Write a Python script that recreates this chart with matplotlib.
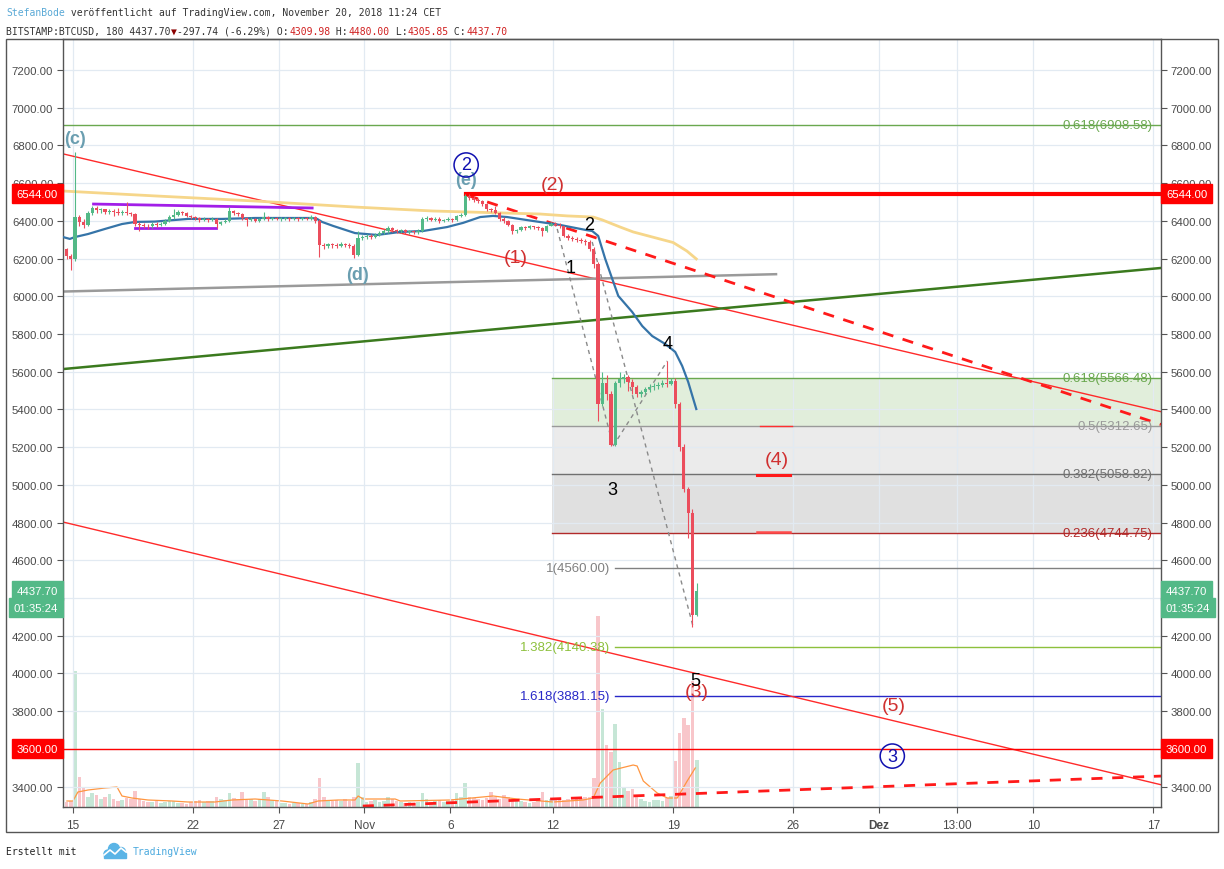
import numpy as np
import matplotlib
matplotlib.use('Agg')
import matplotlib.pyplot as plt
import matplotlib.transforms as mtrans
from matplotlib.patches import Rectangle, Circle

plt.rcParams['font.family'] = ['Liberation Sans', 'DejaVu Sans']

# ---- BTCUSD candles (6h), day 0 = Oct 15 2018, first candle opens Oct 14 12:00
first_day = -0.5
step = 0.25
first_open = 6250
close = [
    6215, 6195,
    6420, 6395, 6380, 6440,
    6470, 6455, 6460, 6445,
    6450, 6445, 6440, 6445,
    6440, 6435, 6385, 6380,
    6375, 6370, 6385, 6380,
    6385, 6400, 6420, 6430,
    6445, 6440, 6425, 6420,
    6415, 6405, 6410, 6405,
    6410, 6385, 6395, 6400,
    6450, 6440, 6435, 6415,
    6405, 6410, 6400, 6410,
    6420, 6410, 6415, 6412,
    6412, 6415, 6410, 6415,
    6410, 6415, 6412, 6420,
    6400, 6270, 6265, 6275,
    6270, 6265, 6275, 6270,
    6265, 6220, 6310, 6315,
    6320, 6315, 6325, 6335,
    6345, 6360, 6350, 6345,
    6350, 6340, 6345, 6340,
    6345, 6410, 6415, 6405,
    6410, 6400, 6405, 6410,
    6405, 6425, 6430, 6530,
    6520, 6510, 6505, 6490,
    6460, 6455, 6440, 6410,
    6400, 6380, 6345, 6350,
    6365, 6360, 6370, 6365,
    6360, 6345, 6375, 6385,
    6380, 6370, 6320, 6310,
    6305, 6300, 6295, 6290,
    6250, 6170, 5430, 5540,
    5480, 5210, 5540, 5560,
    5570, 5545, 5520, 5480,
    5490, 5510, 5520, 5525,
    5530, 5540, 5535, 5550,
    5430, 5200, 4980, 4850,
    4309.98, 4437.70,
]
high = [
    6255, 6225,
    6765, 6430, 6410, 6450,
    6480, 6478, 6470, 6465,
    6462, 6460, 6470, 6455,
    6500, 6448, 6440, 6395,
    6390, 6385, 6395, 6392,
    6395, 6410, 6430, 6465,
    6455, 6452, 6445, 6432,
    6428, 6420, 6418, 6415,
    6418, 6415, 6400, 6408,
    6475, 6458, 6448, 6440,
    6420, 6418, 6415, 6416,
    6445, 6425, 6422, 6420,
    6420, 6422, 6420, 6422,
    6422, 6422, 6420, 6430,
    6428, 6410, 6285, 6285,
    6285, 6282, 6290, 6285,
    6280, 6275, 6345, 6325,
    6330, 6330, 6335, 6345,
    6355, 6372, 6365, 6358,
    6358, 6355, 6352, 6350,
    6355, 6418, 6425, 6420,
    6420, 6418, 6412, 6418,
    6415, 6432, 6440, 6544,
    6540, 6530, 6520, 6512,
    6495, 6470, 6480, 6445,
    6418, 6405, 6385, 6358,
    6372, 6375, 6378, 6375,
    6372, 6365, 6380, 6395,
    6392, 6388, 6375, 6330,
    6318, 6312, 6310, 6305,
    6300, 6260, 6180, 5600,
    5580, 5500, 5550, 5600,
    5590, 5585, 5560, 5530,
    5505, 5520, 5535, 5540,
    5545, 5555, 5657, 5565,
    5565, 5440, 5215, 4990,
    4870, 4480,
]
low = [
    6200, 6140,
    6185, 6370, 6360, 6375,
    6430, 6440, 6440, 6435,
    6435, 6425, 6430, 6430,
    6430, 6425, 6375, 6345,
    6360, 6355, 6362, 6365,
    6370, 6378, 6395, 6412,
    6425, 6430, 6418, 6410,
    6405, 6395, 6398, 6395,
    6398, 6360, 6378, 6388,
    6395, 6430, 6428, 6405,
    6370, 6398, 6392, 6395,
    6402, 6400, 6405, 6405,
    6400, 6405, 6400, 6402,
    6400, 6402, 6402, 6405,
    6390, 6210, 6250, 6255,
    6258, 6255, 6260, 6260,
    6255, 6205, 6215, 6300,
    6305, 6305, 6308, 6318,
    6328, 6338, 6342, 6335,
    6335, 6330, 6332, 6330,
    6332, 6340, 6400, 6398,
    6398, 6390, 6392, 6398,
    6395, 6398, 6418, 6425,
    6508, 6500, 6495, 6480,
    6452, 6445, 6435, 6400,
    6390, 6370, 6330, 6338,
    6345, 6352, 6355, 6355,
    6350, 6320, 6340, 6370,
    6370, 6362, 6315, 6300,
    6295, 6290, 6280, 6270,
    6240, 6150, 5338, 5420,
    5450, 5206, 5205, 5520,
    5540, 5500, 5480, 5465,
    5465, 5480, 5495, 5505,
    5510, 5520, 5520, 5530,
    5410, 5180, 4960, 4720,
    4245, 4305.85,
]
# volume, relative bar height
volume = [
    5, 6,
    136, 30, 20, 10,
    14, 12, 8, 10,
    13, 8, 6, 7,
    9, 8, 16, 8,
    6, 5, 5, 6,
    4, 5, 6, 6,
    4, 4, 3, 5,
    6, 7, 5, 6,
    6, 10, 8, 7,
    14, 9, 8, 15,
    7, 8, 6, 8,
    15, 10, 7, 6,
    4, 4, 3, 4,
    4, 3, 3, 5,
    8, 29, 10, 7,
    6, 7, 6, 8,
    6, 10, 44, 10,
    5, 6, 7, 5,
    6, 10, 8, 6,
    5, 4, 5, 4,
    5, 14, 8, 5,
    6, 7, 5, 6,
    8, 14, 10, 24,
    10, 9, 8, 7,
    9, 15, 10, 8,
    12, 10, 8, 7,
    6, 5, 4, 5,
    6, 15, 7, 8,
    8, 9, 7, 8,
    7, 8, 9, 10,
    10, 29, 191, 98,
    62, 55, 83, 45,
    20, 16, 18, 12,
    8, 6, 5, 7,
    7, 6, 9, 11,
    46, 74, 89, 82,
    126, 47,
]
vol_ma_days = [-0.35, 0, 0.29, 0.88, 1.87, 2.57, 2.86, 3.44, 4.38, 5.78, 6.71, 8.28, 9.28,
               10.62, 12.19, 13.71, 14.29, 15.46, 16.45, 16.63, 16.92, 18.79, 19.08, 22.0,
               24.5, 25.9, 28.0, 29.75, 30.34, 30.75, 31.5, 32.67, 32.9, 33.26, 34.07,
               34.66, 35.24, 35.82, 36.29]
vol_ma = [6, 6, 15, 17, 19, 20, 11, 9, 7, 6, 5, 5, 7, 8, 6, 3, 6, 7, 7, 11, 8, 8, 6, 7,
          11, 8, 5, 7, 9, 24, 37, 42, 41, 26, 14, 9, 9, 26, 39]

# moving averages on price
ma_blue_days = [-0.58, -0.18, 0.12, 0.88, 1.87, 2.86, 3.62, 4.78, 6.71, 8.69, 10.62, 12.54,
                13.94, 14.24, 14.53, 15.17, 16.45, 17.74, 19.08, 20.42, 21.82, 22.75, 23.75,
                24.5, 25.32, 26.84, 28.41, 29.99, 30.28, 30.63, 31.04, 31.45, 31.8, 32.61,
                33.2, 33.78, 34.54, 35.12, 35.53, 35.88, 36.35]
ma_blue = [6314, 6304, 6314, 6330, 6357, 6383, 6394, 6396, 6410, 6410, 6415, 6415, 6415,
           6410, 6394, 6373, 6335, 6325, 6341, 6346, 6367, 6389, 6420, 6426, 6420, 6399,
           6378, 6350, 6346, 6320, 6198, 6092, 6002, 5917, 5842, 5789, 5747, 5705, 5630,
           5545, 5402]
ma_yellow_days = [-0.58, 4.78, 10.62, 16.45, 21.0, 24.91, 27.25, 28.82, 30.34, 30.86,
                  31.91, 32.67, 35.0, 35.8, 36.35]
ma_yellow = [6558, 6532, 6505, 6473, 6452, 6442, 6436, 6426, 6420, 6405, 6367, 6341,
             6285, 6240, 6198]

# drawings
upper_trend = ([-0.58, 63.45], [6755, 5388])
lower_trend = ([-0.58, 63.45], [4803, 3410])
dashed_top = ([23.0, 63.45], [6535, 5320])
dashed_bottom = ([16.9, 63.45], [3297, 3456])
gray_line = ([-0.58, 41.0], [6025, 6117])
green_line = ([-0.58, 63.45], [5614, 6150])
purple_top = ([1.2, 13.95], [6489, 6468])
purple_low = ([3.6, 8.35], [6362, 6362])
wave_paths = [([28.24, 31.5], [6357, 5206]),
              ([30.28, 36.17], [6288, 4246]),
              ([31.5, 34.66], [5206, 5657])]
fib_levels = [5566.48, 5312.65, 5058.82, 4744.75]
fib_names = ['0.618', '0.5', '0.382', '0.236']
ext_levels = [4560.00, 4140.38, 3881.15]
ext_names = ['1', '1.382', '1.618']
level_6544 = 6544.00
level_3600 = 3600.00
fib_top = 6908.58
last_price = 4437.70

tick_days = [0, 7, 12, 17, 22, 28, 35, 42, 47, 51.54, 56, 63]
tick_labels = ['15', '22', '27', 'Nov', '6', '12', '19', '26', 'Dez', '13:00', '10', '17']

W, H = 1224, 870
def fx(px):
    return px / W
def fy(py):
    return 1 - py / H

fig = plt.figure(figsize=(W / 100, H / 100), dpi=100)
fig.patch.set_facecolor('white')
ax = fig.add_axes([fx(63), fy(808), (1161 - 63) / W, (808 - 40) / H])
vax = ax.twinx()
vax.set_ylim(0, 768)
vax.axis('off')
ax.set_zorder(vax.get_zorder() + 1)
ax.patch.set_visible(False)

ax.set_xlim(-0.58, 63.45)
ax.set_ylim(3292, 7364)

# volume
o = np.array([first_open] + close[:-1], dtype=float)
c = np.array(close, dtype=float)
hi = np.array(high, dtype=float)
lo = np.array(low, dtype=float)
t = first_day + step * np.arange(len(c)) + step / 2
up = c >= o
vcol = np.where(up, '#c6e6d6', '#f8c6ca')
vax.bar(t, volume, width=0.21, color=vcol, linewidth=0)
vax.plot(vol_ma_days, vol_ma, color='#ff9640', lw=0.9)

# grid / axes
ax.set_axisbelow(True)
yt = np.arange(3400, 7201, 200)
ax.set_yticks(yt)
# the 3600 label sits under the red price box
ax.set_yticklabels(['' if v == level_3600 else '%.2f' % v for v in yt])
ax.set_xticks(tick_days)
ax.set_xticklabels(tick_labels)
ax.grid(True, color='#e2eaf2', lw=0.9)
ax.tick_params(axis='y', left=True, right=True, labelleft=True, labelright=True,
               direction='out', length=4, color='#555555', labelcolor='#4a4a4a',
               labelsize=8.2, pad=3)
ax.tick_params(axis='x', direction='out', length=4, color='#555555',
               labelcolor='#4a4a4a', labelsize=8.5, pad=5)
ax.get_xticklabels()[8].set_fontweight('bold')
for s in ax.spines.values():
    s.set_color('#555555')
    s.set_linewidth(1)

# fib retracement box
fx0 = 27.95
xr = 63.45
ax.fill_between([fx0, xr], fib_levels[1], fib_levels[0], color='#e1eedb', lw=0, zorder=0.3)
ax.fill_between([fx0, xr], fib_levels[2], fib_levels[1], color='#ebebeb', lw=0, zorder=0.3)
ax.fill_between([fx0, xr], fib_levels[3], fib_levels[2], color='#e0e0e0', lw=0, zorder=0.3)
fib_colors = ['#6aa84f', '#9a9a9a', '#707070', '#b22a2a']
for lev, name, col in zip(fib_levels, fib_names, fib_colors):
    ax.plot([fx0, xr], [lev, lev], color=col, lw=1, zorder=1)
    ax.text(62.95, lev, '%s(%.2f)' % (name, lev), color=col, fontsize=9.5,
            ha='right', va='center', zorder=6)
ax.plot([-0.58, xr], [fib_top, fib_top], color='#6aa84f', lw=1, zorder=1)
ax.text(62.95, fib_top, '0.618(%.2f)' % fib_top, color='#6aa84f', fontsize=9.5,
        ha='right', va='center', zorder=6)
ext_colors = ['#808080', '#8dc03c', '#2828c8']
for lev, name, col in zip(ext_levels, ext_names, ext_colors):
    ax.plot([31.6, xr], [lev, lev], color=col, lw=1, zorder=1)
    ax.text(31.33, lev, '%s(%.2f)' % (name, lev), color=col, fontsize=9.5,
            ha='right', va='center', zorder=6)

# trendlines
ax.plot(*upper_trend, color='#ff2a2a', lw=1, zorder=2)
ax.plot(*lower_trend, color='#ff2a2a', lw=1, zorder=2)
ax.plot(*gray_line, color='#9a9a9a', lw=1.8, zorder=2)
ax.plot(*green_line, color='#3b7a1e', lw=1.8, zorder=2)
ax.plot(*dashed_top, color='#ff1a1a', lw=2, dashes=(4, 3.5), zorder=2)
ax.plot(*dashed_bottom, color='#ff1a1a', lw=2, dashes=(4, 3.5), zorder=2)
ax.plot([22.9, xr], [level_6544, level_6544], color='#ff0000', lw=3, zorder=2)
ax.plot([-0.58, xr], [level_3600, level_3600], color='#ff0000', lw=1, zorder=2)
ax.plot(*purple_top, color='#a21ee8', lw=2, zorder=2)
ax.plot(*purple_low, color='#a21ee8', lw=2, zorder=2)
for xs, ys in wave_paths:
    ax.plot(xs, ys, color='#8a8a8a', lw=1, dashes=(3, 3), zorder=2)
ax.plot([40.08, 41.95], [5310, 5310], color='#ff3030', lw=1, zorder=2)
ax.plot([39.9, 41.83], [5052, 5052], color='#ff1a1a', lw=2.2, zorder=2)
ax.plot([39.9, 41.83], [4750, 4750], color='#ff4a4a', lw=1.8, zorder=2)

# moving averages
ax.plot(ma_yellow_days, ma_yellow, color='#f6d68a', lw=2, zorder=2.5)
ax.plot(ma_blue_days, ma_blue, color='#3574a8', lw=1.6, zorder=2.6)

# candles
ccol = np.where(up, '#53b987', '#eb4d5c')
ax.vlines(t, lo, hi, colors=ccol, lw=0.8, zorder=3)
ax.bar(t, np.maximum(np.abs(c - o), 5), bottom=np.minimum(o, c), width=0.19,
       color=ccol, linewidth=0, zorder=3.1)

# wave labels
teal = '#6a9eb0'
red = '#d03030'
ax.text(0.1, 6834, '(c)', color=teal, fontsize=13, fontweight='bold', ha='center', va='center', zorder=7)
ax.text(16.57, 6113, '(d)', color=teal, fontsize=13, fontweight='bold', ha='center', va='center', zorder=7)
ax.text(22.93, 6617, '(e)', color=teal, fontsize=13, fontweight='bold', ha='center', va='center', zorder=7)
for xd, yp, s in [(22.93, 6696, '2'), (47.78, 3562, '3')]:
    ax.text(xd, yp, s, color='#1010b0', fontsize=13, ha='center', va='center', zorder=7,
            bbox=dict(boxstyle='circle,pad=0.2', fc='none', ec='#1010b0', lw=1.1))
for xd, yp, s in [(28.0, 6590, '(2)'), (25.85, 6208, '(1)'), (36.35, 3907, '(3)'),
                  (41.07, 5132, '(4)'), (47.84, 3832, '(5)')]:
    ax.text(xd, yp, s, color=red, fontsize=14, ha='center', va='center', zorder=7)
for xd, yp, s in [(29.0, 6150, '1'), (30.1, 6383, '2'), (31.45, 4978, '3'),
                  (34.66, 5747, '4'), (36.29, 3965, '5')]:
    ax.text(xd, yp, s, color='black', fontsize=13, ha='center', va='center', zorder=7)

# price boxes on axes
trans = mtrans.blended_transform_factory(ax.transAxes, ax.transData)
def price_box(y, txt, fc, dy=0):
    for xa, off, ha in [(0, -5, 'right'), (1, 5, 'left')]:
        ax.annotate(txt, xy=(xa, y), xycoords=trans, xytext=(off, dy),
                    textcoords='offset pixels', ha=ha, va='center', color='white',
                    fontsize=8.2, annotation_clip=False, zorder=10,
                    bbox=dict(boxstyle='square,pad=0.4', fc=fc, ec=fc))
price_box(level_6544, '%.2f' % level_6544, '#ff0000')
price_box(level_3600, '%.2f' % level_3600, '#ff0000')
price_box(last_price, '%.2f' % last_price, '#53b987')
price_box(last_price, '01:35:24', '#53b987', dy=-17)

# outer frame
fig.patches.append(Rectangle((fx(6), fy(833)), (1218 - 6) / W, (833 - 40) / H,
                             transform=fig.transFigure, fill=False, ec='#555555', lw=1))

# header
mono = ['DejaVu Sans Mono', 'DejaVu Sans']
cw = 5.9
def header(parts, py):
    n = 0
    for txt, col in parts:
        fig.text(fx(6 + n * cw), fy(py), txt, color=col, fontsize=7.05, family=mono,
                 ha='left', va='center')
        n += len(txt)
header([('StefanBode', '#5aa9d6'),
        (' veröffentlicht auf TradingView.com, November 20, 2018 11:24 CET', '#333333')], 13)
header([('BITSTAMP:BTCUSD, 180 4437.70', '#333333'), ('▼', '#8b0000'),
        ('-297.74 (-6.29%) O:', '#333333'), ('4309.98', '#d02020'), (' H:', '#333333'),
        ('4480.00', '#d02020'), (' L:', '#333333'), ('4305.85', '#d02020'),
        (' C:', '#333333'), ('4437.70', '#d02020')], 32)

# footer
fig.text(fx(6), fy(852), 'Erstellt mit', color='#222222', fontsize=7.05, family=mono,
         ha='left', va='center')
logo = '#5ab4e6'
for cx, cy, r in [(108, 855, 4), (114, 850, 5.5), (121, 853, 4.5)]:
    fig.patches.append(Circle((cx / 100, (H - cy) / 100), r / 100,
                              transform=fig.dpi_scale_trans, color=logo))
fig.patches.append(Rectangle((104 / 100, (H - 859) / 100), 22 / 100, 5 / 100,
                             transform=fig.dpi_scale_trans, color=logo))
zig = np.array([[104, 856], [110, 851], [115, 855], [121, 849], [126, 853]], dtype=float)
fig.lines.append(matplotlib.lines.Line2D(zig[:, 0] / 100, (H - zig[:, 1]) / 100,
                                         transform=fig.dpi_scale_trans, color='white', lw=1.2))
fig.text(fx(133), fy(852), 'TradingView', color='#4aa9de', fontsize=7.05, family=mono,
         ha='left', va='center')

fig.savefig('out.png', dpi=100)
